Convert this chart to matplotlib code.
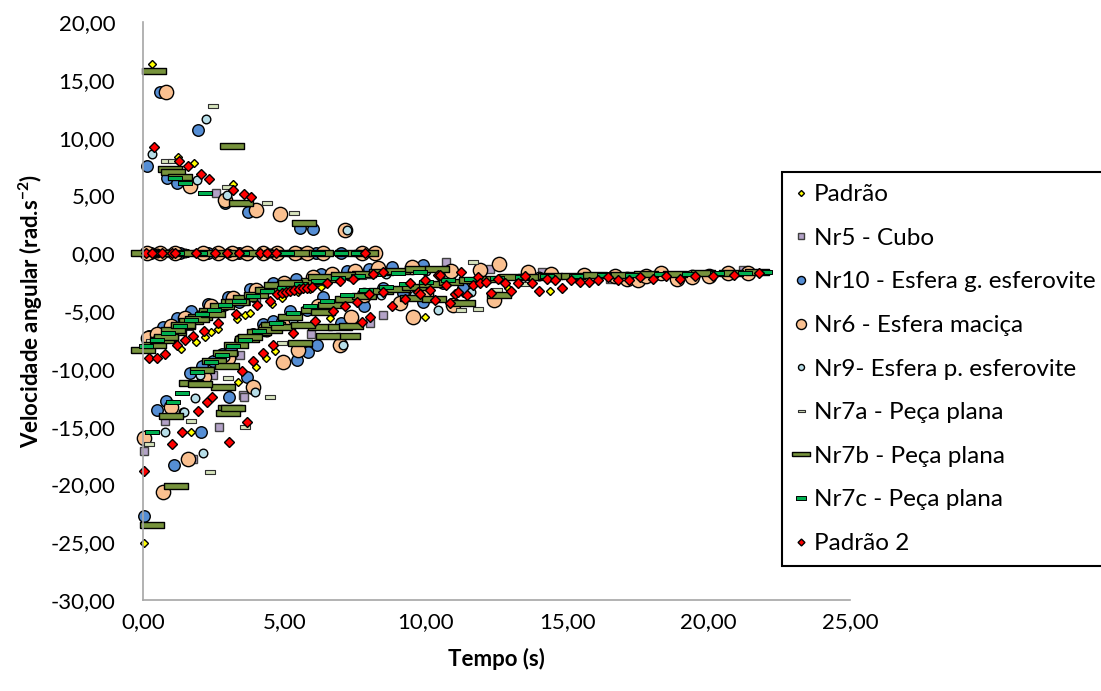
import matplotlib
matplotlib.use("Agg")
import matplotlib.pyplot as plt
from matplotlib.ticker import MultipleLocator, FuncFormatter

plt.rcParams['font.family'] = ['Lato', 'DejaVu Sans']
plt.rcParams['mathtext.fontset'] = 'custom'
plt.rcParams['mathtext.rm'] = 'Lato'
plt.rcParams['mathtext.bf'] = 'Lato:bold'

# Padrão
padrao_t = [0.31, 1.24, 1.79, 3.17,
            0.2, 0.9, 1.6, 2.4, 3.3,
            1.33, 1.87, 2.19, 2.42, 2.66, 3.31, 3.6, 3.78, 4.55, 4.9, 5.49, 5.9, 6.3,
            3.05, 3.37, 4.0, 4.34, 4.66, 5.96, 6.6, 7.84, 8.47, 9.96, 11.3, 12.9, 14.4,
            0.04, 1.7]
padrao_v = [16.35, 8.3, 7.8, 5.95,
            0, 0, 0, 0, 0,
            -8.25, -7.67, -7.24, -6.8, -6.6, -5.65, -5.36, -5.13, -4.41, -3.9, -3.35, -3.1, -2.9,
            -11.7, -11.1, -9.86, -9.08, -8.45, -6.37, -5.6, -4.07, -3.4, -5.5, -3.4, -3.0, -3.3,
            -25.06, -15.5]

# Nr5 - Cubo
cubo_t = [2.58, 1.0, 3.0,
          1.0, 2.5, 4.0, 6.0, 8.0,
          3.43, 2.48, 3.55, 5.95, 8.02, 8.49, 10.73, 12.26, 14.1, 16.5, 21.2,
          0.78, 0.04, 2.7, 1.78, 3.58]
cubo_v = [5.2, 0, 0,
          -6.8, -5.2, -3.9, -2.6, -1.8,
          -8.8, -10.55, -12.3, -7.0, -6.08, -5.36, -0.75, -1.33, -1.6, -2.2, -1.47,
          -14.5, -17.1, -15.0, -17.8, -12.4]

# Nr10 - Esfera g. esferovite
nr10_t = [0.13, 0.6, 0.86, 1.19, 1.93, 2.9, 3.71, 5.55, 6.0,
          0.3, 1.3, 2.3, 3.4, 5.5, 6.1, 7.0, 7.7,
          0.2, 0.7, 1.2, 1.7, 2.3, 3.0, 3.8, 4.6, 5.4, 6.3, 7.2, 8.0, 8.8, 9.9,
          0.45, 0.95, 1.45, 2.0, 2.65, 3.4,
          1.66, 2.46, 2.78, 3.43, 4.25, 4.6, 5.2, 6.37, 3.66, 5.43, 5.84, 6.14, 7.0, 7.8,
          2.1, 3.1, 3.9, 4.9, 5.8,
          8.5, 9.2, 9.9, 10.6, 11.3,
          0.04, 0.5, 0.81, 1.1, 2.04, 3.05]
nr10_v = [7.53, 13.95, 6.5, 6.05, 10.64, 4.3, 3.55, 2.19, 2.07,
          0, 0, 0, 0, 0, 0, 0, 0,
          -7.2, -6.4, -5.6, -5.0, -4.4, -3.8, -3.1, -2.6, -2.2, -1.8, -1.5, -1.35, -1.2, -1.0,
          -7.4, -6.6, -6.0, -5.4, -4.8, -4.2,
          -10.4, -9.3, -8.68, -7.5, -6.1, -5.86, -5.0, -3.8, -10.7, -9.26, -8.54, -7.96, -6.0, -4.6,
          -9.8, -8.2, -7.0, -5.9, -4.9,
          -3.0, -3.4, -4.2, -2.6, -3.0,
          -22.7, -13.6, -12.8, -18.3, -15.5, -12.4]

# Nr6 - Esfera maciça
nr6_t = [0.81, 1.66, 2.9, 3.99, 4.84, 7.14,
         0.13, 0.6, 1.13, 2.12, 2.65, 3.15, 3.67, 4.24, 4.73, 5.37, 5.8, 6.36, 7.74, 8.2,
         0.18, 0.5, 1.0, 1.5, 2.4, 3.2, 4.0, 5.0, 6.0, 6.7, 7.5, 8.3, 9.5, 10.9, 12.6,
         2.16, 3.02, 3.9, 4.96, 5.49, 6.96, 7.37, 4.3, 5.2, 6.2, 7.8, 9.1, 9.55, 10.0,
         10.97, 11.9, 12.4,
         13.6, 14.44, 15.6, 16.7, 17.1, 17.5, 17.8, 18.3, 18.9, 19.4, 20.0, 20.7, 21.4,
         0.04, 0.7, 1.58, 0.98]
nr6_v = [13.95, 5.8, 4.58, 3.72, 3.37, 1.99,
         0, 0, 0, 0, 0, 0, 0, 0, 0, 0, 0, 0, 0, 0,
         -7.35, -7.0, -6.3, -5.6, -4.6, -3.9, -3.2, -2.6, -2.1, -1.8, -1.5, -1.3, -1.2, -1.5, -0.9,
         -10.7, -9.1, -11.57, -9.4, -8.4, -7.96, -5.5, -6.6, -5.7, -4.6, -3.6, -4.3, -5.5, -3.5,
         -4.5, -1.47, -4.07,
         -1.6, -1.76, -1.9, -2.0, -2.2, -2.3, -2.0, -1.75, -2.2, -2.1, -2.0, -1.75, -1.75,
         -16.0, -20.7, -17.8, -13.3]

# Nr9 - Esfera p. esferovite
nr9_t = [0.31, 1.9, 2.23, 2.96, 7.23,
         0.5, 1.5, 3.0, 4.5,
         0.4, 1.3, 2.1, 2.9, 3.9, 5.0, 6.2, 7.3, 8.6, 10.0,
         2.0, 2.9, 3.5, 4.4, 5.3, 6.3, 7.08, 3.96, 8.4, 9.6, 10.44, 11.6, 14.0,
         1.43, 0.78, 2.13, 1.84, 1.46]
nr9_v = [8.56, 6.3, 11.6, 5.07, 1.99,
         0, 0, 0, 0,
         -7.6, -6.4, -5.5, -4.6, -3.8, -3.0, -2.4, -2.0, -1.8, -1.5,
         -10.5, -9.0, -7.8, -6.8, -5.8, -4.8, -7.96, -12.0, -3.6, -3.6, -4.93, -3.35, -2.0,
         -13.7, -15.5, -17.3, -12.5, -13.7]

# Nr7a - Peça plana
nr7a_t = [0.8, 1.05, 2.47, 2.96, 4.37, 5.34,
          3.0, 5.0, 8.08,
          0.3, 1.6, 2.6, 3.6, 4.9, 6.3, 7.7,
          2.2, 3.02, 3.2, 4.9, 11.67, 11.85, 11.26, 12.5, 13.5,
          0.21, 1.7, 2.37, 3.6, 4.49]
nr7a_v = [8.0, 8.0, 12.7, 5.7, 4.3, 3.49,
          0, 0, 0,
          -7.6, -6.5, -5.2, -4.3, -3.3, -2.6, -2.1,
          -11.3, -10.8, -8.6, -7.8, -0.75, -4.87, -4.93, -3.2, -2.7,
          -16.5, -14.5, -18.9, -15.0, -12.4]

# Nr7b - Peça plana
nr7b_t = [0.39, 0.95, 1.06, 1.3, 3.15, 3.46, 5.69,
          0.0, 0.7, 1.4, 2.2, 3.0, 3.8, 4.7, 5.5, 6.3, 7.2, 7.9,
          0.0, 0.4, 0.8, 1.1, 1.4, 1.7, 2.0, 2.4, 2.8, 3.2, 3.6, 4.0, 4.5, 5.0, 5.5, 6.0,
          6.6, 7.2, 7.8, 8.4, 9.0, 9.7, 10.4,
          0.66, 0.83, 1.07, 1.42, 1.9, 2.48, 3.31, 4.37, 4.72, 5.2, 6.25, 7.08,
          1.7, 2.1, 2.5, 2.9, 3.3, 3.66, 4.1, 4.6, 5.2, 5.55, 6.02, 6.25, 6.6, 7.26, 7.2,
          2.96, 2.84, 2.01, 3.07, 3.78, 4.49, 4.96, 5.66, 6.37, 6.96,
          7.8, 8.4, 9.0, 9.6, 10.2, 10.9, 11.6, 12.3, 13.0, 13.7, 14.4, 15.2, 16.0, 16.9,
          17.8, 18.8, 19.8, 20.8, 21.7, 6.55, 7.37, 9.5, 10.3, 11.3, 12.6,
          0.31, 1.17, 0.98, 3.01, 3.19]
nr7b_v = [15.8, 7.3, 7.0, 6.6, 9.28, 4.3, 2.6,
          0, 0, 0, 0, 0, 0, 0, 0, 0, 0, 0,
          -8.4, -7.9, -7.3, -6.8, -6.3, -5.9, -5.5, -5.0, -4.6, -4.2, -3.9, -3.6, -3.2, -2.9, -2.6, -2.4,
          -2.2, -2.0, -1.8, -1.6, -1.5, -1.4, -1.4,
          -7.5, -7.24, -6.66, -6.2, -5.65, -5.22, -4.2, -3.2, -2.77, -2.62, -2.05, -1.9,
          -11.2, -10.1, -9.3, -8.6, -7.9, -7.4, -6.8, -6.2, -5.56, -7.8, -4.93, -6.37, -4.5, -7.18, -4.0,
          -9.8, -11.6, -11.3, -13.4, -7.24, -6.66, -6.37, -6.2, -5.07, -6.37,
          -3.7, -3.3, -3.1, -2.9, -2.7, -2.5, -2.3, -2.2, -2.1, -2.1, -2.0, -2.0, -1.9, -1.9,
          -1.8, -1.8, -1.7, -1.75, -1.6, -7.2, -6.3, -3.9, -4.0, -4.35, -3.6,
          -23.5, -20.1, -14.1, -13.8, -13.4]

# Nr7c - Peça plana
nr7c_t = [1.13, 1.48, 2.19,
          0.5, 1.2, 2.0, 3.5, 5.1, 6.2, 7.0, 7.6,
          0.1, 0.5, 0.9, 1.3, 1.7, 2.1, 2.5, 2.9, 3.4, 3.9, 4.4, 5.0, 5.6, 6.2, 6.9, 7.6,
          8.3, 9.0, 9.8,
          1.37, 1.9, 2.4, 2.8, 3.2, 3.6, 4.1, 4.7, 5.3, 5.9, 6.5, 7.2, 7.9, 8.6, 9.3, 10.0,
          10.8, 11.6, 12.5, 13.4, 14.3, 15.3, 16.3, 17.3, 18.3, 19.3, 20.3, 21.3, 22.0,
          0.31, 1.07]
nr7c_v = [6.5, 6.1, 5.2,
          0, 0, 0, 0, 0, 0, 0, 0,
          -8.0, -7.5, -6.9, -6.3, -5.8, -5.3, -4.9, -4.5, -4.1, -3.7, -3.3, -3.0, -2.7, -2.4, -2.15, -1.95,
          -1.8, -1.7, -1.6,
          -12.1, -10.3, -9.4, -8.8, -8.0, -7.5, -6.7, -6.0, -5.2, -4.6, -4.1, -3.6, -3.2, -2.9, -2.7, -2.5,
          -2.35, -2.25, -2.15, -2.05, -2.0, -1.95, -1.9, -1.85, -1.8, -1.8, -1.75, -1.7, -1.65,
          -15.5, -12.9]

# Padrão 2
padrao2_t = [0.39, 1.27, 1.58, 2.05, 2.33, 3.17, 3.57, 3.82,
             0.1, 0.31, 0.66, 1.01, 1.13, 1.87, 2.54, 2.96, 3.39, 4.13, 4.37, 4.72, 7.84,
             0.21, 0.48, 0.77, 1.19, 1.48, 1.78, 2.16, 2.66, 3.29, 4.02, 4.49, 4.75, 4.9, 5.05,
             5.19, 5.35, 5.5, 5.65, 5.8, 5.96, 6.49, 6.96, 7.43, 8.14, 8.49, 10.43, 11.26, 11.85,
             1.95, 2.25, 2.45, 3.49, 3.9, 4.25, 4.6, 5.31, 6.08, 6.72, 7.14, 7.55, 7.73, 8.02,
             8.0, 8.47, 8.79, 9.26, 9.43, 9.73, 9.79, 9.96, 10.14, 10.32, 10.49, 10.7, 10.85,
             11.02, 11.15, 11.44, 11.67, 11.91, 12.12, 12.32, 12.56, 12.79, 13.03, 13.26, 13.5,
             13.77, 14.0, 14.27, 14.56, 14.83, 15.12, 15.44, 15.76, 16.09, 16.44, 16.8, 17.18,
             17.59, 18.03, 18.5, 19.0, 19.53, 20.15, 20.89, 21.78,
             0.04, 1.01, 1.39, 3.05, 3.69]
padrao2_v = [9.17, 8.0, 7.5, 6.83, 6.4, 5.45, 5.1, 4.87,
             0, 0, 0, 0, 0, 0, 0, 0, 0, 0, 0, 0, 0,
             -9.05, -9.05, -8.68, -7.9, -7.47, -7.18, -6.75, -6.03, -5.3, -4.5, -4.15, -3.55, -3.45, -3.37,
             -3.3, -3.22, -3.12, -3.05, -2.98, -2.92, -2.62, -2.4, -2.19, -1.76, -1.61, -1.9, -1.6, -2.05,
             -13.67, -12.9, -12.4, -10.2, -9.34, -8.6, -7.96, -6.9, -5.86, -5.0, -4.58, -4.2, -5.94, -5.56,
             -3.57, -3.35, -4.58, -4.0, -2.62, -3.35, -3.49, -2.28, -3.2, -4.07, -1.9, -2.77, -4.3,
             -3.49, -3.35, -3.63, -2.77, -2.62, -2.48, -3.43, -2.19, -2.57, -3.26, -2.54, -1.96,
             -2.62, -3.29, -2.19, -2.28, -3.05, -2.28, -2.48, -2.48, -2.34, -2.1, -2.34, -2.34,
             -2.1, -2.19, -1.99, -2.19, -1.96, -1.99, -1.9, -1.7,
             -18.86, -16.5, -15.5, -16.3, -14.6]


def bar_marker(h):
    # flat rectangle used for the "Peça plana" series
    return [(-1, -h), (1, -h), (1, h), (-1, h), (-1, -h)]


series = [
    ("Padrão", padrao_t, padrao_v, "D", 4.4, "#FFFF00", "black", 1.0),
    ("Nr5 - Cubo", cubo_t, cubo_v, "s", 6.0, "#B3A2C7", "#404040", 1.0),
    ("Nr10 - Esfera g. esferovite", nr10_t, nr10_v, "o", 8.3, "#558ED5", "black", 1.0),
    ("Nr6 - Esfera maciça", nr6_t, nr6_v, "o", 10.3, "#FAC090", "black", 1.0),
    ("Nr9- Esfera p. esferovite", nr9_t, nr9_v, "o", 6.2, "#B7DEE8", "black", 1.0),
    ("Nr7a - Peça plana", nr7a_t, nr7a_v, bar_marker(0.4), 7.2, "#D7E4BD", "#303030", 0.8),
    ("Nr7b - Peça plana", nr7b_t, nr7b_v, bar_marker(0.25), 17.5, "#77933C", "black", 1.0),
    ("Nr7c - Peça plana", nr7c_t, nr7c_v, bar_marker(0.3), 10.5, "#00B050", "black", 0.7),
    ("Padrão 2", padrao2_t, padrao2_v, "D", 5.0, "#FF0000", "black", 1.0),
]

fig = plt.figure(figsize=(11.01, 6.91), dpi=100)
ax = fig.add_axes([143 / 1101, 1 - 600 / 691, (850 - 143) / 1101, (600 - 22) / 691])

for label, t, v, mk, ms, fc, ec, ew in series:
    ax.plot(t, v, ls="none", marker=mk, ms=ms, mfc=fc, mec=ec, mew=ew,
            clip_on=False, label=label)

ax.set_xlim(0, 25)
ax.set_ylim(-30, 20)
ax.xaxis.set_major_locator(MultipleLocator(5))
ax.yaxis.set_major_locator(MultipleLocator(5))
fmt = FuncFormatter(lambda x, pos: f"{x:.2f}".replace(".", ","))
ax.xaxis.set_major_formatter(fmt)
ax.yaxis.set_major_formatter(fmt)
ax.tick_params(axis="both", length=0, labelsize=16, colors="black")
ax.tick_params(axis="y", pad=20)
ax.tick_params(axis="x", pad=9)

for s in ("top", "right"):
    ax.spines[s].set_visible(False)
for s in ("left", "bottom"):
    ax.spines[s].set_color("#A6A6A6")
    ax.spines[s].set_linewidth(1.2)

ax.set_xlabel("Tempo (s)", fontsize=16, fontweight="bold", labelpad=11)
ax.set_ylabel(r"Velocidade angular (rad.s$^{\mathbf{-2}}$)", fontsize=16,
              fontweight="bold", labelpad=4)

# legend box runs off the right edge of the figure
leg = ax.legend(loc="upper left",
                bbox_to_anchor=(782 / 1101, 0, 0.4, 1 - 172 / 691),
                bbox_transform=fig.transFigure, mode="expand", fontsize=17.5,
                frameon=True, fancybox=False, framealpha=1, edgecolor="black",
                handlelength=0.6, handletextpad=0.2, borderpad=0.5,
                labelspacing=0.93, markerscale=0.7, borderaxespad=0)
leg.get_frame().set_linewidth(1.5)

fig.savefig("out.png", dpi=100)
